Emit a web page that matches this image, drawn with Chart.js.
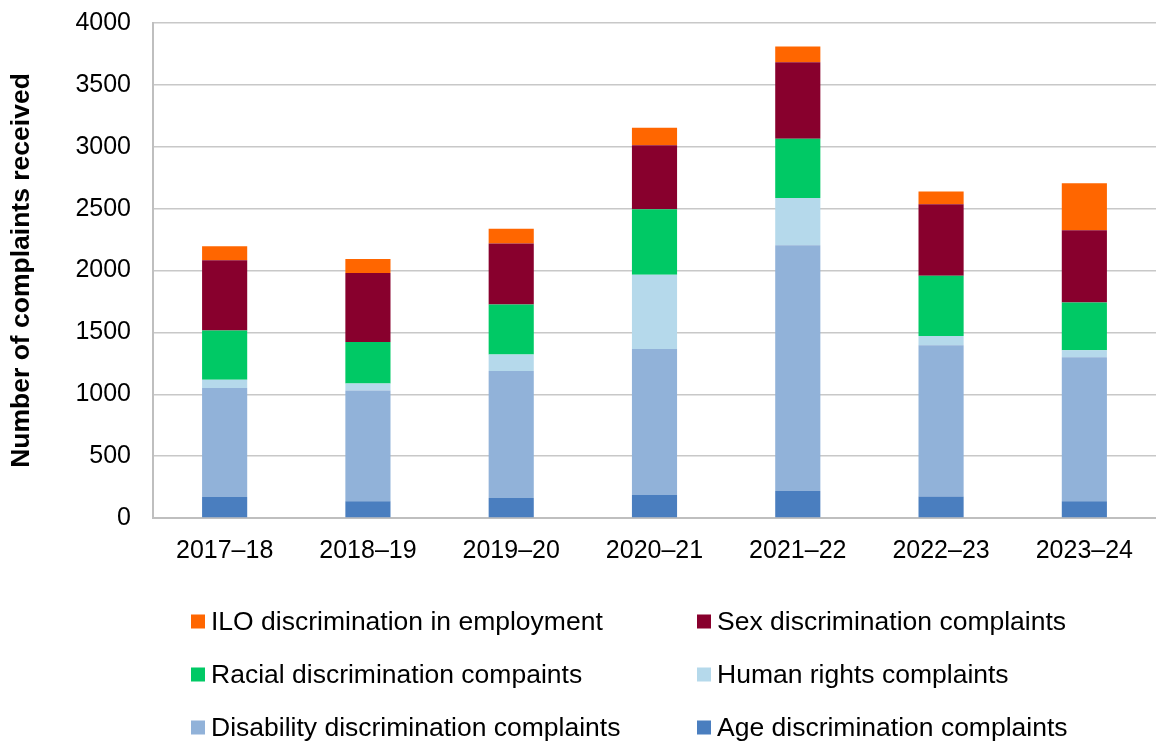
<!DOCTYPE html>
<html>
<head>
<meta charset="utf-8">
<script src="https://cdn.jsdelivr.net/npm/chart.js@4"></script>
<style>
    body { margin: 0; background: #fff; }
    #wrap { position: relative; width: 1156px; height: 741px; overflow: hidden; }
    #complaints-chart { display: block; margin-top: -14px; }
    #legend { position: absolute; left: 0; top: 0; width: 1156px; height: 741px; pointer-events: none; }
    .item { position: absolute; display: flex; align-items: center; font-family: Arial, "Liberation Sans", sans-serif; font-size: 26.5px; color: #000; white-space: nowrap; transform: translateY(-50%); }
    .item span.box { display: inline-block; width: 14px; height: 14px; margin-right: 6px; }
</style>
</head>
<body>
<div id="wrap">
    <canvas id="complaints-chart" width="1156" height="594"></canvas>
    <div id="legend"></div>
</div>
<script>
var years = ["2017–18", "2018–19", "2019–20", "2020–21", "2021–22", "2022–23", "2023–24"];
var age = [170, 135, 162, 186, 218, 173, 135];
var disability = [880, 896, 1025, 1179, 1987, 1222, 1165];
var humanRights = [68, 55, 135, 601, 380, 75, 55];
var racial = [398, 336, 404, 528, 480, 488, 387];
var sex = [566, 557, 493, 519, 618, 578, 584];
var ilo = [113, 113, 119, 140, 127, 103, 380];
var yTicks = [0, 500, 1000, 1500, 2000, 2500, 3000, 3500, 4000];

var font = "Arial, 'Liberation Sans', sans-serif";

var series = [
    { label: "Age discrimination complaints", data: age, color: "#4A7EBF" },
    { label: "Disability discrimination complaints", data: disability, color: "#91B2D9" },
    { label: "Human rights complaints", data: humanRights, color: "#B5D9EB" },
    { label: "Racial discrimination compaints", data: racial, color: "#00C965" },
    { label: "Sex discrimination complaints", data: sex, color: "#88002D" },
    { label: "ILO discrimination in employment", data: ilo, color: "#FF6600" }
];

document.addEventListener("DOMContentLoaded", function () {
    var ctx = document.getElementById("complaints-chart").getContext("2d");
    new Chart(ctx, {
        type: "bar",
        data: {
            labels: years,
            datasets: series.map(function (s) {
                return {
                    label: s.label,
                    data: s.data,
                    backgroundColor: s.color,
                    borderWidth: 0,
                    barPercentage: 0.315,
                    categoryPercentage: 1
                };
            })
        },
        options: {
            responsive: false,
            animation: false,
            layout: { padding: { top: 9, right: 0, left: 0, bottom: 0 } },
            plugins: { legend: { display: false }, tooltip: { enabled: false } },
            scales: {
                x: {
                    stacked: true,
                    grid: { display: false, drawTicks: false },
                    border: { color: "#BFBFBF", width: 2 },
                    ticks: { color: "#000", font: { family: font, size: 25 }, padding: 18 },
                    afterFit: function (s) { s.height = 62; }
                },
                y: {
                    stacked: true,
                    min: 0,
                    max: 4000,
                    afterBuildTicks: function (s) {
                        s.ticks = yTicks.map(function (v) { return { value: v }; });
                    },
                    grid: { color: "#C8C8C8", lineWidth: 1.5, drawTicks: false },
                    border: { color: "#BFBFBF", width: 2 },
                    ticks: {
                        color: "#000",
                        font: { family: font, size: 25 },
                        padding: 22,
                        callback: function (v) { return String(v); }
                    },
                    title: {
                        display: true,
                        text: "Number of complaints received",
                        color: "#000",
                        font: { family: font, size: 26.5, weight: "bold" },
                        padding: { top: 6, bottom: 0 }
                    },
                    afterFit: function (s) { s.width = 153; }
                }
            }
        }
    });

    // legend in two columns, same order as the original (top of stack first)
    var legendOrder = [5, 4, 3, 2, 1, 0];
    var colX = [191, 697];
    var rowY = [621, 674, 727];
    var legend = document.getElementById("legend");
    legendOrder.forEach(function (idx, i) {
        var s = series[idx];
        var el = document.createElement("div");
        el.className = "item";
        el.style.left = colX[i % 2] + "px";
        el.style.top = rowY[Math.floor(i / 2)] + "px";
        el.innerHTML = '<span class="box" style="background:' + s.color + '"></span>' + s.label;
        legend.appendChild(el);
    });
});
</script>
</body>
</html>
